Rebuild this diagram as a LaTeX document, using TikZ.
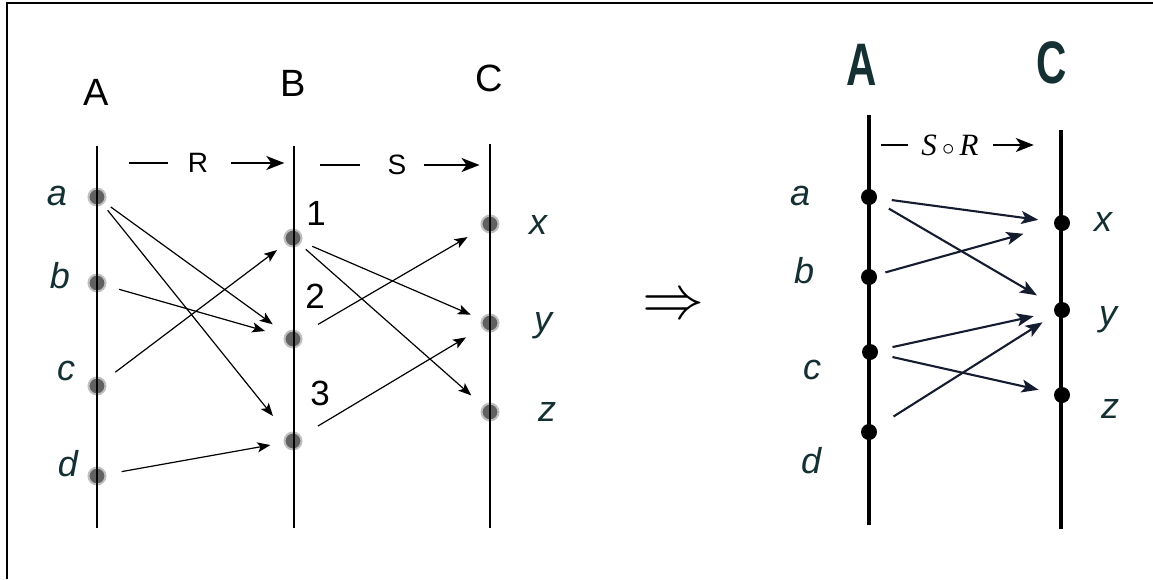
\documentclass[tikz,border=0pt]{standalone}
\usepackage{fontspec}
\setmainfont{Liberation Sans}
\newfontfamily\timesfont{Liberation Serif}
\usetikzlibrary{positioning, arrows.meta}
\definecolor{tealdark}{RGB}{20,48,50}
\definecolor{navy}{RGB}{22,28,48}

\begin{document}
\begin{tikzpicture}[
  x=1pt, y=-1pt,
  setname/.style={font=\fontsize{38}{42}\selectfont, inner sep=0pt},
  setbold/.style={font=\fontsize{60}{60}\selectfont\bfseries, text=tealdark, inner sep=0pt},
  elem/.style={font=\fontsize{36}{40}\selectfont\itshape, text=tealdark, inner sep=0pt},
  num/.style={font=\fontsize{35}{38}\selectfont, inner sep=0pt},
  relname/.style={font=\fontsize{28}{30}\selectfont, inner sep=0pt},
  softdot/.style={circle, inner sep=0pt, minimum size=17pt, fill=black!62, draw=black!25, line width=2pt},
  harddot/.style={circle, inner sep=0pt, minimum size=16pt, fill=black},
  axis/.style={line width=1.8pt},
  axisthick/.style={line width=3.2pt},
  mapsto/.style={-{Stealth[length=13pt, width=10pt, inset=3pt]}, line width=1.2pt, shorten <=21pt, shorten >=25pt},
  mapstoR/.style={-{Stealth[length=17pt, width=13pt, inset=4pt]}, line width=2.1pt, draw=navy, shorten <=23pt, shorten >=27pt},
  headarrow/.style={-{Stealth[length=18pt, width=14pt, inset=5pt]}, line width=1.9pt},
]
\useasboundingbox (0,0) rectangle (1153,579);
\draw[line width=2.2pt] (7,579) -- (7,3) -- (1153,3);

% left picture: A --R--> B --S--> C
\node[softdot] (aL) at (97,197) {};
\node[softdot] (bL) at (97,283) {};
\node[softdot] (cL) at (97,386) {};
\node[softdot] (dL) at (97,476) {};
\node[softdot] (oneB) at (293,238) {};
\node[softdot] (twoB) at (293,339) {};
\node[softdot] (threeB) at (293,441) {};
\node[softdot] (xL) at (490,224) {};
\node[softdot] (yL) at (490,323) {};
\node[softdot] (zL) at (490,412) {};
\draw[axis] (97,146) -- (97,528);
\draw[axis] (294,146) -- (294,528);
\draw[axis] (490,144) -- (490,528);

\node[setname] (setA) at (96,92) {A};
\node[setname] (setB) at (293,83) {B};
\node[setname] (setC) at (489,78) {C};
\node[elem] (aLab) at (57,196) {a};
\node[elem] (bLab) at (60,276) {b};
\node[elem] (cLab) at (66,371) {c};
\node[elem] (dLab) at (68,464) {d};
\node[num] (oneLab) at (316,213) {1};
\node[num] (twoLab) at (315,296) {2};
\node[num] (threeLab) at (320,393) {3};
\node[elem] (xLab) at (538,225) {x};
\node[elem] (yLab) at (543,326) {y};
\node[elem] (zLab) at (547,412) {z};

\node[relname] (Rlab) at (198,163) {R};
\draw[line width=1.6pt] ([xshift=-20pt]Rlab.west) -- ([xshift=-59pt]Rlab.west);
\draw[headarrow] ([xshift=23pt]Rlab.east) -- ([xshift=76pt]Rlab.east);
\node[relname] (Slab) at (397,165) {S};
\draw[line width=1.6pt] ([xshift=-27pt]Slab.west) -- ([xshift=-67pt]Slab.west);
\draw[headarrow] ([xshift=17pt]Slab.east) -- ([xshift=73pt]Slab.east);

\draw[mapsto, shorten <=17pt] (aL.center) -- (twoB.center);
\draw[mapsto, shorten <=17pt, shorten >=32pt] (aL.center) -- (threeB.center);
\draw[mapsto, shorten <=23pt, shorten >=29pt] (bL.center) -- (twoB.center);
\draw[mapsto, shorten <=23pt, shorten >=20pt] (cL.center) -- (oneB.center);
\draw[mapsto, shorten <=25pt, shorten >=23pt] (dL.center) -- (threeB.center);
\draw[mapsto, shorten >=21pt] (oneB.center) -- (yL.center);
\draw[mapsto, shorten <=17pt] (oneB.center) -- (zL.center);
\draw[mapsto, shorten <=29pt, shorten >=26pt] (twoB.center) -- (xL.center);
\draw[mapsto, shorten <=29pt, shorten >=28pt] (threeB.center) -- (yL.center);

\node (implies) at (673,307) {\scalebox{6.2}{$\Rightarrow$}};

% right picture: A --S o R--> C
\node[harddot] (aR) at (869,197) {};
\node[harddot] (bR) at (869,277) {};
\node[harddot] (cR) at (870,352) {};
\node[harddot] (dR) at (869,432) {};
\node[harddot] (xR) at (1062,223) {};
\node[harddot] (yR) at (1062,310) {};
\node[harddot] (zR) at (1062,395) {};
\draw[axisthick] (869,115) -- (869,525);
\draw[axisthick, line width=3.6pt] (1061,130) -- (1061,529);

\node[setbold] (setAR) at (862,65) {\scalebox{0.7}[1]{A}};
\node[setbold] (setCR) at (1052,63) {\scalebox{0.7}[1]{C}};
\node[elem] (aRLab) at (800,196) {a};
\node[elem] (bRLab) at (804,271) {b};
\node[elem] (cRLab) at (812,370) {c};
\node[elem] (dRLab) at (811,461) {d};
\node[elem] (xRLab) at (1103,222) {x};
\node[elem] (yRLab) at (1108,320) {y};
\node[elem] (zRLab) at (1110,409) {z};

\node[inner sep=0pt, font=\fontsize{31}{33}\selectfont\timesfont\itshape] (SRlab) at (950,145) {S\,$\circ$\,R};
\draw[line width=1.7pt] ([xshift=-13pt]SRlab.west) -- ([xshift=-40pt]SRlab.west);
\draw[headarrow] ([xshift=14pt]SRlab.east) -- ([xshift=55pt]SRlab.east);

\draw[mapstoR, shorten >=24pt] (aR.center) -- (xR.center);
\draw[mapstoR, shorten >=29pt] (aR.center) -- (yR.center);
\draw[mapstoR, shorten <=17pt, shorten >=40pt] (bR.center) -- (xR.center);
\draw[mapstoR, shorten >=29pt] (cR.center) -- (yR.center);
\draw[mapstoR, shorten >=24pt] (cR.center) -- (zR.center);
\draw[mapstoR, shorten <=29pt, shorten >=23pt] (dR.center) -- (yR.center);
\end{tikzpicture}
\end{document}
